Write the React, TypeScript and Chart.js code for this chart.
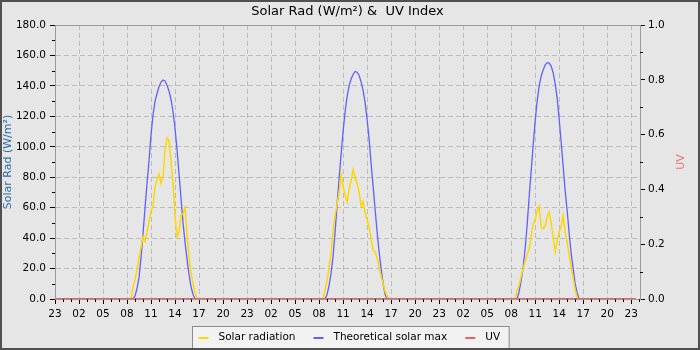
import React, { useEffect, useRef } from 'react';
import { Chart, registerables } from 'chart.js';

Chart.register(...registerables);

const FONT = "'DejaVu Sans', sans-serif";

// x values are hours after the first tick (23:00 on the first day)
const xTickHours = [0, 3, 6, 9, 12, 15, 18, 21, 24, 27, 30, 33, 36, 39, 42, 45, 48, 51, 54, 57, 60, 63, 66, 69, 72];
const xTickLabels = ['23', '02', '05', '08', '11', '14', '17', '20', '23', '02', '05', '08', '11', '14', '17', '20', '23', '02', '05', '08', '11', '14', '17', '20', '23'];
const xEndHour = 72.55;
const STEP_HOURS = 0.25; // readings every 15 minutes

// Solar radiation (W/m²), one list per day
const solarStarts = [9.5, 33.5, 57.5];
const solarDay1 = [0, 8, 13, 19, 27, 34, 41, 38, 44, 51, 58, 61, 74, 78, 82, 76, 80, 98, 106, 104, 90, 76, 54, 41, 44, 55, 56, 60, 42, 27, 17, 10, 4, 0];
const solarDay2 = [0, 6, 12, 21, 30, 45, 55, 62, 70, 82, 74, 68, 64, 72, 78, 85, 80, 76, 70, 61, 64, 57, 52, 47, 40, 32, 31, 27, 21, 15, 10, 5, 2, 0];
const solarDay3 = [0, 6, 9, 15, 20, 25, 29, 33, 41, 49, 52, 58, 61, 47, 46, 48, 54, 57, 50, 41, 31, 38, 44, 48, 55, 44, 37, 29, 21, 14, 6, 1, 0];

// Theoretical solar max (W/m²)
const maxStarts = [9.75, 33.75, 57.75];
const maxDay1 = [0, 2, 7, 14, 27, 43, 60, 76, 91, 108, 121, 130, 135, 139.5, 142.5, 143.8, 143.2, 140.5, 136.5, 131, 123, 112, 98, 82, 66, 50, 37, 26, 16, 8, 3, 0];
const maxDay2 = [0, 3, 9, 17, 28, 44, 62, 79, 95, 110, 123, 133, 140, 144.5, 147.5, 149.5, 149, 147, 142.5, 137, 129, 118, 105, 89, 74, 59, 44, 31, 20, 10, 3, 0];
const maxDay3 = [0, 5, 12, 21, 33, 49, 67, 84, 101, 117, 130, 140, 146.5, 150.5, 153.8, 155.3, 155, 153, 148.5, 141.5, 132, 118, 103, 87, 71, 58, 43, 30, 20, 10, 4, 0];

// UV index
const uvHours = [0, 24, 48, xEndHour];
const uvValues = [0, 0, 0, 0];

function buildSeries(starts: number[], days: number[][]) {
  const pts: { x: number; y: number }[] = [{ x: 0, y: 0 }];
  days.forEach((vals, d) => {
    vals.forEach((v, i) => pts.push({ x: starts[d] + i * STEP_HOURS, y: v }));
  });
  pts.push({ x: xEndHour, y: 0 });
  return pts;
}

const bgPlugin = {
  id: 'bg',
  beforeDraw(chart: any) {
    const ctx = chart.ctx;
    ctx.save();
    ctx.fillStyle = '#e6e6e6';
    ctx.fillRect(0, 0, chart.width, chart.height);
    ctx.restore();
  },
};

const framePlugin = {
  id: 'frame',
  beforeDatasetsDraw(chart: any) {
    const { ctx, chartArea: a } = chart;
    ctx.save();
    ctx.strokeStyle = '#9a9a9a';
    ctx.lineWidth = 1;
    ctx.strokeRect(Math.round(a.left) + 0.5, Math.round(a.top) + 0.5, Math.round(a.right - a.left), Math.round(a.bottom - a.top));
    // minor ticks
    ctx.strokeStyle = '#000';
    ctx.beginPath();
    const xs = chart.scales.x;
    for (let h = 0; h <= 73; h++) {
      if (h % 3 === 0) continue;
      const px = Math.round(xs.getPixelForValue(h)) + 0.5;
      ctx.moveTo(px, a.bottom);
      ctx.lineTo(px, a.bottom + 3);
    }
    const ys = chart.scales.y;
    for (let v = 10; v < 180; v += 20) {
      const py = Math.round(ys.getPixelForValue(v)) + 0.5;
      ctx.moveTo(a.left - 3, py);
      ctx.lineTo(a.left, py);
    }
    const y1 = chart.scales.y1;
    for (let v = 0.1; v < 1; v += 0.2) {
      const py = Math.round(y1.getPixelForValue(v)) + 0.5;
      ctx.moveTo(a.right, py);
      ctx.lineTo(a.right + 3, py);
    }
    ctx.stroke();
    // right axis title, reading bottom to top like the left one
    ctx.fillStyle = '#f07070';
    ctx.font = `11px ${FONT}`;
    ctx.textAlign = 'center';
    ctx.textBaseline = 'middle';
    ctx.translate(681.5, (a.top + a.bottom) / 2);
    ctx.rotate(-Math.PI / 2);
    ctx.fillText('UV', 0, 0);
    ctx.restore();
  },
};

const legendPlugin = {
  id: 'boxLegend',
  afterDraw(chart: any) {
    const ctx = chart.ctx;
    const items = chart.data.datasets.map((d: any) => ({ text: d.label, color: d.borderColor }));
    ctx.save();
    ctx.font = `10.5px ${FONT}`;
    const sym = 10, gap = 10, itemGap = 18, padL = 6, padR = 9;
    const widths = items.map((it: any) => ctx.measureText(it.text).width);
    let total = padL + padR + itemGap * (items.length - 1);
    widths.forEach((w: number) => { total += sym + gap + w; });
    const left = Math.round(chart.width / 2 - total / 2) + 0.5;
    const top = 326.5;
    ctx.fillStyle = '#f2f2f2';
    ctx.fillRect(left, top, total, 30);
    ctx.strokeStyle = '#8c8c8c';
    ctx.lineWidth = 1;
    ctx.strokeRect(left, top, total, 30);
    let x = left + padL;
    const cy = 337.5;
    items.forEach((it: any, i: number) => {
      ctx.strokeStyle = it.color;
      ctx.lineWidth = 2;
      ctx.beginPath();
      ctx.moveTo(x, cy + 0.5);
      ctx.lineTo(x + sym, cy + 0.5);
      ctx.stroke();
      ctx.fillStyle = '#000';
      ctx.textBaseline = 'middle';
      ctx.textAlign = 'left';
      ctx.fillText(it.text, x + sym + gap, cy - 0.5);
      x += sym + gap + widths[i] + itemGap;
    });
    // outer frame
    ctx.fillStyle = '#505050';
    ctx.fillRect(0, 0, chart.width, 2);
    ctx.fillRect(0, chart.height - 2, chart.width, 2);
    ctx.fillRect(0, 0, 2, chart.height);
    ctx.fillRect(chart.width - 2, 0, 2, chart.height);
    ctx.restore();
  },
};

export default function App() {
  const ref = useRef<HTMLCanvasElement | null>(null);

  useEffect(() => {
    if (!ref.current) return;
    Chart.defaults.font.family = FONT;
    const tickFont = { family: FONT, size: 10.5 };
    const chart = new Chart(ref.current, {
      type: 'line',
      data: {
        datasets: [
          {
            label: 'Solar radiation',
            data: buildSeries(solarStarts, [solarDay1, solarDay2, solarDay3]),
            borderColor: '#ffd700',
            borderWidth: 1.5,
            pointRadius: 0,
            tension: 0,
            fill: false,
            yAxisID: 'y',
            order: 1,
          },
          {
            label: 'Theoretical solar max',
            data: buildSeries(maxStarts, [maxDay1, maxDay2, maxDay3]),
            borderColor: '#6060ff',
            borderWidth: 1.3,
            pointRadius: 0,
            tension: 0,
            fill: false,
            yAxisID: 'y',
            order: 2,
          },
          {
            label: 'UV',
            data: uvHours.map((h, i) => ({ x: h, y: uvValues[i] })),
            borderColor: '#f06060',
            borderWidth: 2,
            pointRadius: 0,
            fill: false,
            yAxisID: 'y1',
            order: 0,
          },
        ] as any,
      },
      options: {
        responsive: false,
        animation: false,
        devicePixelRatio: 1,
        layout: { padding: { left: 0, right: 0, top: 0, bottom: 28 } },
        plugins: {
          legend: { display: false },
          tooltip: { enabled: false },
          title: {
            display: true,
            text: 'Solar Rad (W/m²) &  UV Index',
            color: '#000',
            fullSize: false,
            font: { family: FONT, size: 13, weight: 'normal', lineHeight: 1.2 },
            padding: { top: 4, bottom: 5.4 },
          },
        },
        scales: {
          x: {
            type: 'linear',
            min: 0,
            max: 73.1,
            afterBuildTicks: (s: any) => {
              s.ticks = xTickHours.map((v) => ({ value: v }));
            },
            afterFit: (s: any) => {
              s.height = 23;
            },
            ticks: {
              callback: (_v: any, i: number) => xTickLabels[i] ?? '',
              autoSkip: false,
              maxRotation: 0,
              minRotation: 0,
              padding: 4,
              color: '#000',
              font: tickFont,
            },
            grid: { color: '#bcbcbc', lineWidth: 1, tickLength: 5, tickColor: '#000', drawTicks: true },
            border: { display: true, color: '#9a9a9a', dash: [5, 3] },
          },
          y: {
            type: 'linear',
            position: 'left',
            min: 0,
            max: 180,
            afterFit: (s: any) => {
              s.width = 55;
            },
            ticks: {
              stepSize: 20,
              callback: (v: any) => Number(v).toFixed(1),
              padding: 4,
              color: '#000',
              font: tickFont,
            },
            grid: { color: '#bcbcbc', lineWidth: 1, tickLength: 5, tickColor: '#000' },
            border: { display: true, color: '#9a9a9a', dash: [5, 3] },
            title: {
              display: true,
              text: 'Solar Rad (W/m²)',
              color: '#2a6fa6',
              font: { family: FONT, size: 11, lineHeight: 1.2 },
              padding: { top: 2, bottom: 0 },
            },
          },
          y1: {
            type: 'linear',
            position: 'right',
            min: 0,
            max: 1,
            afterFit: (s: any) => {
              s.width = 60;
            },
            ticks: {
              stepSize: 0.2,
              callback: (v: any) => Number(v).toFixed(1),
              padding: 3,
              color: '#000',
              font: tickFont,
            },
            grid: { drawOnChartArea: false, tickLength: 5, tickColor: '#000' },
            border: { display: true, color: '#9a9a9a' },
            title: { display: false, text: 'UV' },
          },
        },
      } as any,
      plugins: [bgPlugin, framePlugin, legendPlugin],
    });
    return () => chart.destroy();
  }, []);

  return (
    <div style={{ position: 'fixed', left: 0, top: 0, width: 700, height: 350 }}>
      <canvas ref={ref} width={700} height={350} style={{ display: 'block', width: 700, height: 350 }} />
    </div>
  );
}
